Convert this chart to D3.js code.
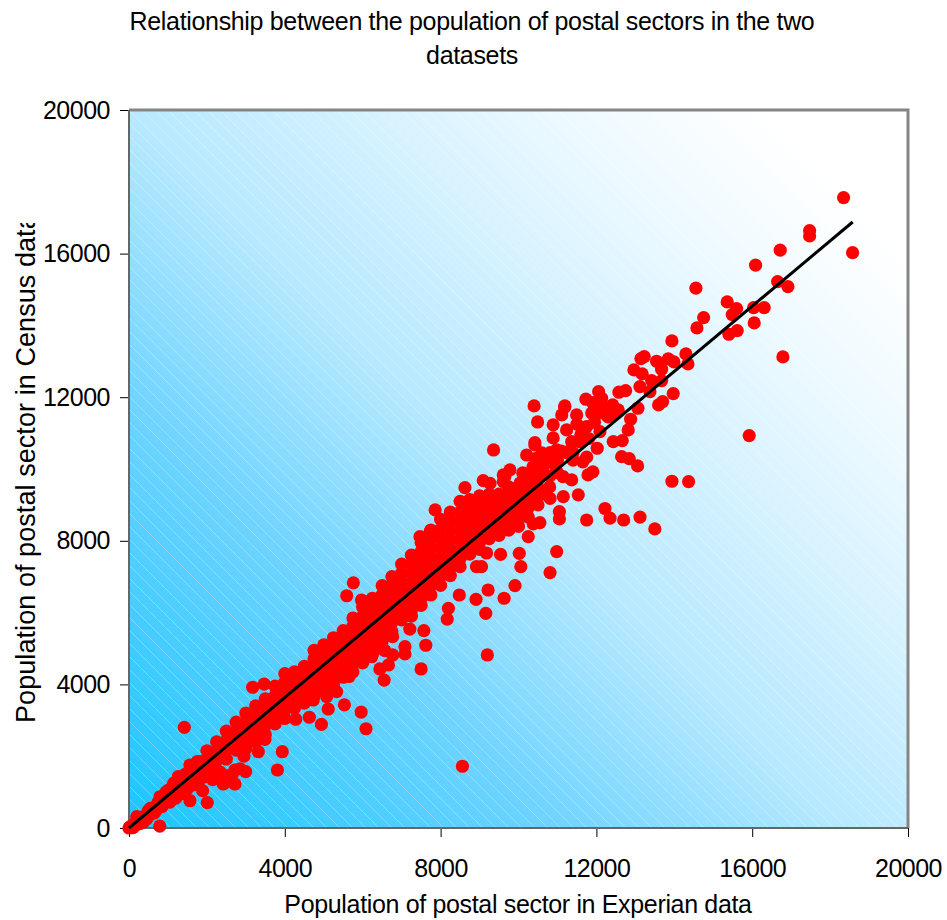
<!DOCTYPE html>
<html>
<head>
<meta charset="utf-8">
<title>Postal sector population</title>
<script src="https://cdn.jsdelivr.net/npm/d3@7"></script>
<style>
body { margin: 0; background: #fff; }
text { font-family: "Liberation Sans", Arial, sans-serif; fill: #000; }
</style>
</head>
<body>
<div id="chart"></div>
<script>
//// DATA

var chartTitle = ["Relationship between the population of postal sectors in the two", "datasets"];
var xLabel = "Population of postal sector in Experian data";
var yLabel = "Population of postal sector in Census data";
var tickValues = [0, 4000, 8000, 12000, 16000, 20000];

// Trend line, end to end
var trendX = [0, 18580];
var trendY = [0, 16880];

// Low end of the scatter [experian, census]
var lowPoints = [
  [0,0],[30,40],[60,20],[100,10],[120,100],[150,60],[200,315],[250,180],[280,120],[350,260],[400,330],[380,180],
  [495,480],[500,330],[620,560],[600,440],[700,500],[795,870],[780,640],[900,720],[950,1000],[980,820],[1050,720],
  [1100,1130],[1150,980],[1200,830],[1265,1430],[1300,1200],[1350,950],[1450,1500],[1480,1250],[1500,1100],
  [1565,1755],[1620,1450],[1650,1200],[1750,1850],[1780,1560],[1800,1320],
  [300,300],[450,250],[550,550],[650,420],[750,720],[850,600],[1000,1050],[1050,900],[1150,1250],[1250,1050],
  [1400,1350],[1400,1150],[1550,1400],[1700,1650],[1700,1400],[1850,1850],[1850,1600],[2150,1350],[2350,1550],
  [2550,1450],[2500,1300],[2650,1500],[2850,1650],[2950,2000]
];

// Dense band of the scatter: one list of census values for each experian value
var bandX = [2000, 2250, 2500, 2750, 3000, 3250, 3500, 3750, 4000, 4250, 4500, 4750, 5000, 5250, 5500, 5750,
             6000, 6250, 6500, 6750, 7000, 7250, 7500, 7750, 8000, 8250, 8500, 8750, 9000, 9250, 9500, 9750, 10000, 10250];
var bandY = [
  [2150,1900,1650,1430],
  [2400,2130,1870,1610],
  [2700,2440,2180,1920],
  [2950,2690,2430,2170],
  [3200,2950,2690,2430,2210],
  [3400,3130,2870,2610,2400],
  [3600,3370,3110,2850,2600],
  [3950,3680,3420,3160,2900],
  [4300,4060,3800,3540,3280,3050],
  [4350,4120,3860,3600,3340],
  [4500,4260,4000,3740,3480],
  [4950,4710,4450,4190,3930,3670],
  [5100,4860,4600,4340,4080,3820],
  [5300,5040,4780,4520,4260,4000],
  [5500,5240,4980,4720,4460,4200],
  [5850,5620,5360,5100,4840,4580,4350],
  [6150,5900,5640,5380,5120,4860,4600],
  [6400,6140,5880,5620,5360,5100,4850],
  [6750,6500,6240,5980,5720,5460,5200,5000],
  [7000,6770,6510,6250,5990,5730,5470],
  [7350,7100,6840,6580,6320,6060,5800],
  [7600,7360,7100,6840,6580,6320,6060,5900],
  [7950,7700,7440,7180,6920,6660,6400,6200],
  [8300,8050,7790,7530,7270,7010,6750,6490],
  [8600,8320,8060,7800,7540,7280,7020,6760],
  [8800,8550,8290,8030,7770,7510,7250,7030],
  [9100,8800,8540,8280,8020,7760,7500,7280],
  [9150,8930,8670,8410,8150,7890,7630],
  [9250,9000,8740,8480,8220,7960,7760],
  [9300,9060,8800,8540,8280,8060],
  [9300,9130,8870,8610,8350,8150],
  [9500,9240,8980,8720,8460,8300],
  [9500,9370,9110,8850,8590,8400],
  [9700,9440,9180,8920,8660,8115]
];

// Points that stand clear of the band [experian, census]
var scatterPoints = [
  [18346,17560],[17474,16641],[17474,16493],[18577,16028],[16719,16095],[16087,15677],[16652,15220],[16917,15081],
  [14555,15036],[15358,14654],[15600,14468],[15487,14301],[16036,14495],[16308,14495],[16052,14069],[14753,14217],
  [14581,13930],[15615,13855],[15402,13754],[13939,13568],[16788,13122],[14298,13206],[14350,12927],[13228,13130],
  [13143,13075],[13546,13002],[13844,13066],[13990,12983],[13674,12779],[12963,12760],[13176,12648],[13117,12295],
  [13418,12462],[13674,12462],[13374,12155],[13972,12100],[12750,12183],[12578,12139],[13700,11877],[13597,11785],
  [15923,10930],[12057,12155],[12134,11971],[11731,11944],[11184,11721],[12417,11785],[12560,11645],[13066,11693],
  [11493,11506],[12879,11386],[12817,11088],[12663,10790],[12432,10762],[12021,10578],[12648,10344],[12843,10289],
  [13058,10085],[13939,9659],[14367,9648],
  [10400,11757],[10490,11310],[10890,11230],[11190,11757],[11110,11506],[10420,10735],[10210,10390],[10810,10456],
  [10890,10865],[11235,11088],[11880,11560],[12090,11560],[11750,11180],[12090,11040],[11365,10760],[11580,10760],
  [10980,10530],[11750,10330],[11650,10200],[11910,9920],[11785,9835],[9780,9975],[9650,9790],[10110,9890],[10370,10060],
  [10630,10060],[10935,10110],[11140,9790],[11365,9695],[10040,9610],[11400,10250],[11000,10250],[11250,10450],
  [11800,10850],[11600,10950],[11500,11250],[11950,11300],[12300,11450],[12500,11550],[12200,11700],[11900,11850],[12000,11750],
  [10750,10200],[10450,10300],[10600,10450],[11000,9900],[10800,9800],[10550,9800],[10300,9750],[11100,10500],[11300,10500],[11400,10450],
  [11535,9280],[11150,9230],[10810,9180],[12220,8900],[12350,8630],[12700,8580],[13120,8660],[13500,8330],[11750,8580],
  [11050,8810],[11050,8610],[10550,8505],[10380,8470],[10980,7700],[10810,7115],[10060,7280],[9540,7620],[10020,7650],
  [10500,9000],[10600,9300],[10400,9200],[10800,9500],[10500,9500],
  [9910,6750],[9220,6630],[9630,6400],[8910,6370],[9160,5980],[9200,4820],[8480,6490],[8200,6120],[8170,5820],
  [7570,5500],[7620,5090],[7085,5050],[7085,4850],[6570,4940],[6770,4820],[6660,4540],[6440,4430],[7500,4430],[6550,4120],
  [5650,4220],[5330,3800],[6230,4770],[5930,4730],[7210,5540],[6770,5330],[9050,7280],[9180,7660],[8920,7280],
  [8560,1720],[7860,8860],[5760,6830],[5590,6470],[5970,6350],[7470,8115],[7730,8255],[8625,9480],[9095,9675],[9270,9600],
  [9610,9835],[9610,9650],[9360,10530],[10420,10670],
  [1420,2805],[3175,3920],[3470,4010],[3490,2470],[3935,2125],[3810,1615],[3320,2125],[2995,1570],[2720,1615],
  [2720,1225],[2420,1225],[2010,705],[1565,760],[1890,1040],[790,55],[4630,3085],[4940,2885],[5960,3230],[6085,2765],
  [5530,3430],[5115,3315],[4280,3030],[4730,3565],[5075,3660]
];


//// MAIN

var width = 947, height = 920;
var margin = {top: 110, left: 129};
var plotW = 779, plotH = 718;

var svg = d3.select("#chart").append("svg")
    .attr("width", width)
    .attr("height", height);

var x = d3.scaleLinear().domain([0, 20000]).range([0, plotW]);
var y = d3.scaleLinear().domain([0, 20000]).range([plotH, 0]);

var defs = svg.append("defs");

// Diagonal fill of the plot area
var grad = defs.append("linearGradient")
    .attr("id", "plotFill")
    .attr("gradientUnits", "userSpaceOnUse")
    .attr("x1", 0).attr("y1", plotH)
    .attr("x2", 748.5).attr("y2", -30.5);
[["0%", "#1ac6ff"], ["28%", "#6dd3ff"], ["48%", "#b8e9ff"], ["76%", "#ecf9ff"], ["90%", "#ffffff"]].forEach(function(s) {
    grad.append("stop").attr("offset", s[0]).attr("stop-color", s[1]);
});

// Faint white hatching over it
var hatch = defs.append("pattern")
    .attr("id", "plotHatch")
    .attr("patternUnits", "userSpaceOnUse")
    .attr("width", 13).attr("height", 13);
hatch.append("path")
    .attr("d", "M-2,-2L15,15M-2,11L2,15M11,-2L15,2")
    .attr("stroke", "#fff")
    .attr("stroke-opacity", 0.28)
    .attr("stroke-width", 1);

defs.append("clipPath").attr("id", "yLabelClip")
  .append("rect").attr("x", 0).attr("y", 223).attr("width", 60).attr("height", 600);

var plot = svg.append("g")
    .attr("transform", "translate(" + margin.left + "," + margin.top + ")");

plot.append("rect").attr("width", plotW).attr("height", plotH).attr("fill", "url(#plotFill)");
plot.append("rect").attr("width", plotW).attr("height", plotH).attr("fill", "url(#plotHatch)");

// Axes
var xAxis = plot.append("g")
    .attr("transform", "translate(0," + plotH + ")")
    .call(d3.axisBottom(x).tickValues(tickValues).tickFormat(d3.format("d")).tickSize(9).tickPadding(22));
var yAxis = plot.append("g")
    .call(d3.axisLeft(y).tickValues(tickValues).tickFormat(d3.format("d")).tickSize(9).tickPadding(10));

[xAxis, yAxis].forEach(function(a) {
    a.select(".domain").remove();
    a.selectAll("line").attr("stroke", "#000").attr("stroke-width", 1);
    a.selectAll("text").attr("font-size", 25).attr("font-family", "Liberation Sans").attr("letter-spacing", -0.5);
});

// Plot frame: heavier and lighter on the top and right, dark on the left and bottom
plot.append("path")
    .attr("d", "M0,0H" + plotW + "V" + plotH)
    .attr("fill", "none")
    .attr("stroke", "#858585")
    .attr("stroke-width", 3);
plot.append("path")
    .attr("d", "M0,0V" + plotH + "H" + plotW)
    .attr("fill", "none")
    .attr("stroke", "#666")
    .attr("stroke-width", 2);

// Scatter
var bandPoints = [];
bandX.forEach(function(bx, i) {
    bandY[i].forEach(function(by) { bandPoints.push([bx, by]); });
});

plot.append("g").selectAll("circle")
    .data(lowPoints.concat(bandPoints, scatterPoints))
    .enter().append("circle")
    .attr("cx", function(d) { return x(d[0]); })
    .attr("cy", function(d) { return y(d[1]); })
    .attr("r", 6.6)
    .attr("fill", "#ff0000");

// Trend line
plot.append("path")
    .datum(d3.zip(trendX, trendY))
    .attr("d", d3.line().x(function(d) { return x(d[0]); }).y(function(d) { return y(d[1]); }))
    .attr("fill", "none")
    .attr("stroke", "#000")
    .attr("stroke-width", 3);

// Title and axis labels
svg.selectAll(".title").data(chartTitle).enter().append("text")
    .attr("class", "title")
    .attr("x", 472)
    .attr("y", function(d, i) { return 30 + i * 34; })
    .attr("text-anchor", "middle")
    .attr("font-size", 25)
    .attr("letter-spacing", -0.33)
    .text(function(d) { return d; });

svg.append("text")
    .attr("x", 518).attr("y", 913)
    .attr("text-anchor", "middle")
    .attr("font-size", 25)
    .attr("letter-spacing", -0.34)
    .text(xLabel);

svg.append("g").attr("clip-path", "url(#yLabelClip)")
  .append("text")
    .attr("transform", "translate(35,723) rotate(-90)")
    .attr("font-size", 27)
    .attr("letter-spacing", 0.07)
    .text(yLabel);
</script>
</body>
</html>
